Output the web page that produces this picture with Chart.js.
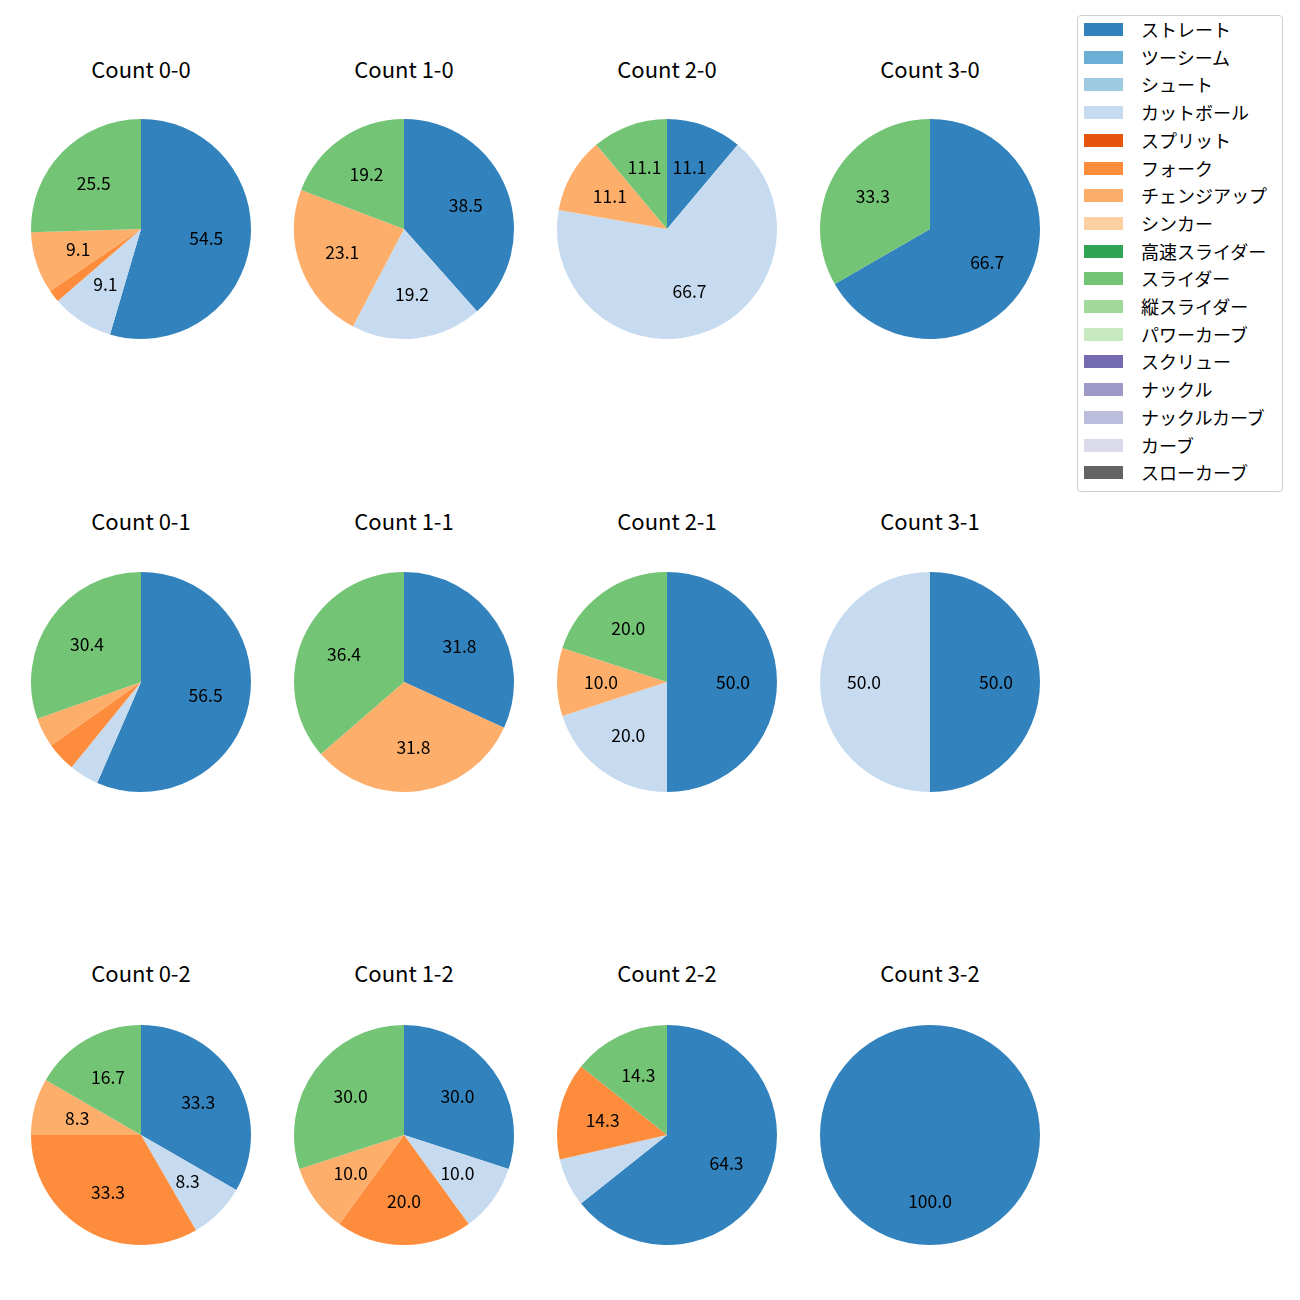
<!DOCTYPE html>
<html>
<head>
<meta charset="utf-8">
<script src="https://cdn.jsdelivr.net/npm/chart.js@4.4.1/dist/chart.umd.min.js"></script>
<style>
  html, body { margin: 0; padding: 0; background: #ffffff; }
  body { width: 1300px; height: 1300px; position: relative; overflow: hidden;
         font-family: "Noto Sans CJK JP", "Noto Sans", "DejaVu Sans", sans-serif; }
  .title { position: absolute; width: 240px; text-align: center; font-size: 22px; color: #000; line-height: 24px; }
  .pie { position: absolute; width: 240px; height: 240px; }
  #legend { position: absolute; left: 1077px; top: 15px; width: 206px; height: 477px;
            border: 1px solid #d0d0d0; border-radius: 4px; background: #fff; box-sizing: border-box; }
  .item { position: absolute; left: 0; height: 20px; font-size: 18px; color: #000; }
  .sw { position: absolute; left: 6px; top: 6px; width: 39px; height: 13px; }
  .lt { position: absolute; left: 63px; top: 0px; white-space: nowrap; line-height: 24px; }
</style>
</head>
<body>
<div id="legend"></div>
<script>
// ---- data (pitch counts per ball-strike count) ----
const categories = ["ストレート","ツーシーム","シュート","カットボール","スプリット","フォーク","チェンジアップ","シンカー","高速スライダー","スライダー","縦スライダー","パワーカーブ","スクリュー","ナックル","ナックルカーブ","カーブ","スローカーブ"];
const colors = ["#3182bd","#6baed6","#9ecae1","#c6dbef","#e6550d","#fd8d3c","#fdae6b","#fdd0a2","#31a354","#74c476","#a1d99b","#c7e9c0","#756bb1","#9e9ac8","#bcbddc","#dadaeb","#636363"];
const titles = ["Count 0-0","Count 1-0","Count 2-0","Count 3-0","Count 0-1","Count 1-1","Count 2-1","Count 3-1","Count 0-2","Count 1-2","Count 2-2","Count 3-2"];
//               St 2S Sh Ct Sp Fk Ch Si HS Sl VS PC Sc Kn KC Cu SC
const count00 = [30, 0, 0, 5, 0, 1, 5, 0, 0, 14, 0, 0, 0, 0, 0, 0, 0];
const count10 = [10, 0, 0, 5, 0, 0, 6, 0, 0, 5,  0, 0, 0, 0, 0, 0, 0];
const count20 = [1,  0, 0, 6, 0, 0, 1, 0, 0, 1,  0, 0, 0, 0, 0, 0, 0];
const count30 = [2,  0, 0, 0, 0, 0, 0, 0, 0, 1,  0, 0, 0, 0, 0, 0, 0];
const count01 = [13, 0, 0, 1, 0, 1, 1, 0, 0, 7,  0, 0, 0, 0, 0, 0, 0];
const count11 = [7,  0, 0, 0, 0, 0, 7, 0, 0, 8,  0, 0, 0, 0, 0, 0, 0];
const count21 = [5,  0, 0, 2, 0, 0, 1, 0, 0, 2,  0, 0, 0, 0, 0, 0, 0];
const count31 = [1,  0, 0, 1, 0, 0, 0, 0, 0, 0,  0, 0, 0, 0, 0, 0, 0];
const count02 = [4,  0, 0, 1, 0, 4, 1, 0, 0, 2,  0, 0, 0, 0, 0, 0, 0];
const count12 = [3,  0, 0, 1, 0, 2, 1, 0, 0, 3,  0, 0, 0, 0, 0, 0, 0];
const count22 = [9,  0, 0, 1, 0, 2, 0, 0, 0, 2,  0, 0, 0, 0, 0, 0, 0];
const count32 = [1,  0, 0, 0, 0, 0, 0, 0, 0, 0,  0, 0, 0, 0, 0, 0, 0];
const allCounts = [count00,count10,count20,count30,count01,count11,count21,count31,count02,count12,count22,count32];

// ---- layout ----
const colX = [141, 404, 667, 930];
const rowY = [229, 682, 1135];
const titleY = [56, 508, 960];

const pctLabels = {
  id: 'pctLabels',
  afterDatasetsDraw(chart) {
    const ctx = chart.ctx;
    const ds = chart.data.datasets[0];
    const total = ds.data.reduce((a, b) => a + b, 0);
    const meta = chart.getDatasetMeta(0);
    ctx.save();
    ctx.fillStyle = '#000';
    ctx.font = '17.5px "Noto Sans CJK JP", "Noto Sans", sans-serif';
    ctx.textAlign = 'center';
    ctx.textBaseline = 'middle';
    meta.data.forEach((arc, i) => {
      const v = ds.data[i];
      if (!v || v / total * 100 < 8) return;
      const mid = (arc.startAngle + arc.endAngle) / 2;
      const r = arc.outerRadius * 0.6;
      ctx.fillText((v / total * 100).toFixed(1), arc.x + Math.cos(mid) * r, arc.y + Math.sin(mid) * r);
    });
    ctx.restore();
  }
};

allCounts.forEach((vals, k) => {
  const c = k % 4, r = Math.floor(k / 4);
  const t = document.createElement('div');
  t.className = 'title';
  t.style.left = (colX[c] - 120) + 'px';
  t.style.top = titleY[r] + 'px';
  t.textContent = titles[k];
  document.body.appendChild(t);
  const wrap = document.createElement('div');
  wrap.className = 'pie';
  wrap.style.left = (colX[c] - 120) + 'px';
  wrap.style.top = (rowY[r] - 120) + 'px';
  const cv = document.createElement('canvas');
  wrap.appendChild(cv);
  document.body.appendChild(wrap);
  new Chart(cv, {
    type: 'pie',
    data: { labels: categories, datasets: [{ data: vals, backgroundColor: colors, borderWidth: 0 }] },
    options: {
      responsive: true, maintainAspectRatio: false, animation: false,
      layout: { padding: 10 },
      plugins: { legend: { display: false }, tooltip: { enabled: false }, title: { display: false } }
    },
    plugins: [pctLabels]
  });
});

const legend = document.getElementById('legend');
categories.forEach((name, i) => {
  const it = document.createElement('div');
  it.className = 'item';
  it.style.top = (1 + i * 27.7) + 'px';
  const sw = document.createElement('div');
  sw.className = 'sw';
  sw.style.background = colors[i];
  const lt = document.createElement('div');
  lt.className = 'lt';
  lt.textContent = name;
  it.appendChild(sw); it.appendChild(lt);
  legend.appendChild(it);
});
</script>
</body>
</html>
